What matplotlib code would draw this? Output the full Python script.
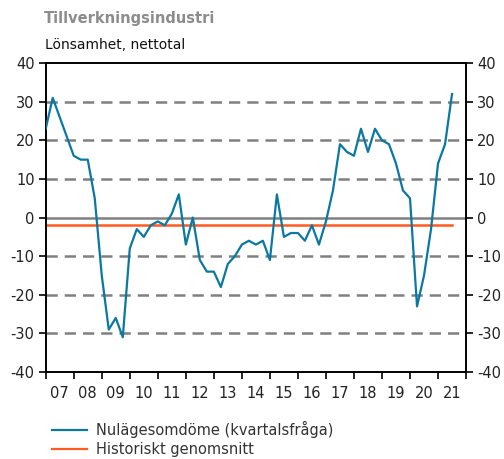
import numpy as np
import matplotlib
matplotlib.use("Agg")
import matplotlib.pyplot as plt
from matplotlib.lines import Line2D

# Kvartalsdata 2007 Q1 - 2021 Q3
start_year = 2007
nulage = [
    23, 31, 26, 21,
    16, 15, 15, 5,
    -15, -29, -26, -31,
    -8, -3, -5, -2,
    -1, -2, 1, 6,
    -7, 0, -11, -14,
    -14, -18, -12, -10,
    -7, -6, -7, -6,
    -11, 6, -5, -4,
    -4, -6, -2, -7,
    -1, 7, 19, 17,
    16, 23, 17, 23,
    20, 19, 14, 7,
    5, -23, -15, -3,
    14, 19, 32,
]
hist_mean = -2
years = list(range(2007, 2022))
year_labels = [f"{y % 100:02d}" for y in years]
y_ticks = [-40, -30, -20, -10, 0, 10, 20, 30, 40]

BLUE = "#0A78A3"
ORANGE = "#FF5B1F"
GRID = "#808080"

plt.rcParams['font.family'] = ['DejaVu Sans']
plt.rcParams['axes.unicode_minus'] = False

fig = plt.figure(figsize=(5.04, 4.59), dpi=100)
ax = fig.add_axes([0.0907, 0.1895, 0.834, 0.673])

x = start_year + np.arange(len(nulage)) * 0.25

# rutnät
for yv in y_ticks[1:-1]:
    if yv == 0:
        ax.axhline(0, color=GRID, lw=1.8, zorder=1)
    else:
        ax.axhline(yv, color=GRID, lw=1.8, ls=(0, (4.5, 2.8)), zorder=1)

ax.plot([x[0], x[-1]], [hist_mean, hist_mean], color=ORANGE, lw=1.8, zorder=2)
ax.plot(x, nulage, color=BLUE, lw=1.6, zorder=3)

ax.set_xlim(2007, 2022)
ax.set_ylim(-40, 40)

ax.set_xticks(range(2007, 2023))
ax.set_xticklabels([])
ax.set_xticks([y + 0.5 for y in years], minor=True)
ax.set_xticklabels(year_labels, minor=True)
ax.tick_params(axis='x', which='major', direction='out', length=5, width=1.2)
ax.tick_params(axis='x', which='minor', length=0, pad=10, labelsize=10.5, labelcolor='#222222')

ax.set_yticks(y_ticks)
ax.tick_params(axis='y', which='major', direction='out', length=5, width=1.2,
               left=True, right=True, labelleft=True, labelright=True,
               labelsize=10.5, labelcolor='#222222', pad=3)

for s in ax.spines.values():
    s.set_linewidth(1.4)
    s.set_color('black')

fig.text(0.088, 0.96, "Tillverkningsindustri", fontsize=10.5, fontweight='bold',
         color='#8C8C8C', ha='left', va='center')
fig.text(0.089, 0.902, "Lönsamhet, nettotal", fontsize=10, color='#111111',
         ha='left', va='center')

handles = [Line2D([], [], color=BLUE, lw=1.6),
           Line2D([], [], color=ORANGE, lw=1.6)]
fig.legend(handles, ["Nulägesomdöme (kvartalsfråga)", "Historiskt genomsnitt"],
           loc='upper left', bbox_to_anchor=(0.104, 0.083), frameon=False,
           fontsize=10.5, handlelength=2.4, handletextpad=0.6, labelspacing=0.3,
           borderaxespad=0, borderpad=0, labelcolor='#333333')

fig.savefig("out.png", dpi=100)
